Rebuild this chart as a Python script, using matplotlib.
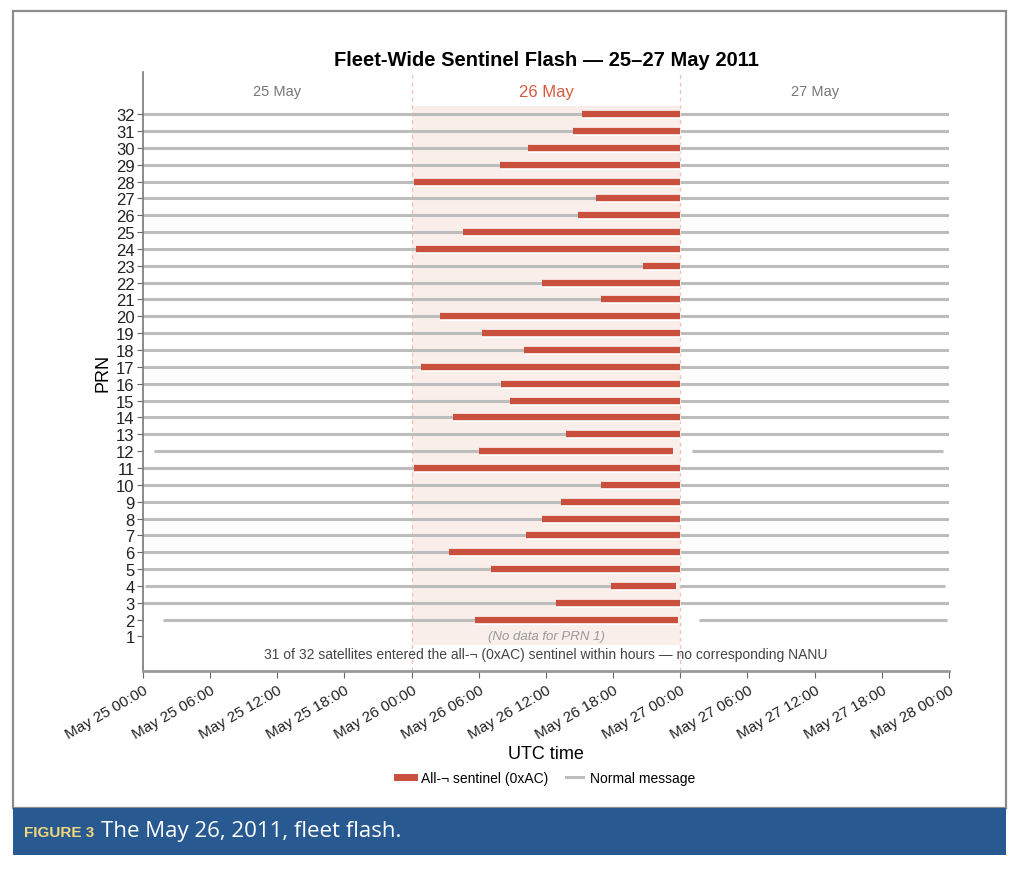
import numpy as np
import pandas as pd
import matplotlib
matplotlib.use("Agg")
import matplotlib.pyplot as plt
import matplotlib.dates as mdates
import matplotlib.patheffects as pe
from matplotlib.patches import Rectangle
from matplotlib.lines import Line2D

plt.rcParams['font.family'] = ['Liberation Sans', 'DejaVu Sans']

# data
prn = list(range(2, 33))
onset = ["05:38", "12:55", "17:47", "07:05", "03:20", "10:14", "11:40", "13:22", "16:55",
         "00:11", "06:01", "13:45", "03:43", "08:45", "07:57", "00:48", "10:00", "06:15",
         "02:30", "16:53", "11:40", "20:41", "00:25", "04:35", "14:50", "16:30", "00:11",
         "07:55", "10:25", "14:25", "15:13"]
# exceptions: PRN -> (normal start, sentinel end, normal resume, normal end)
special = {
    2: ("2011-05-25 01:48", "2011-05-26 23:48", "2011-05-27 01:40", "2011-05-27 23:51"),
    4: ("2011-05-25 00:11", "2011-05-26 23:37", "2011-05-27 00:00", "2011-05-27 23:39"),
    12: ("2011-05-25 01:00", "2011-05-26 23:23", "2011-05-27 01:04", "2011-05-27 23:26"),
}
default_span = ("2011-05-25 00:00", "2011-05-27 00:00", "2011-05-27 00:00", "2011-05-28 00:00")

days = ["25 May", "26 May", "27 May"]
ticks = pd.date_range("2011-05-25 00:00", "2011-05-28 00:00", freq="6h")

RED = "#c9503c"
GRAY = "#bdbdbd"

fig = plt.figure(figsize=(10.24, 8.7), dpi=100)

# outer frame + caption band
fig.patches.append(Rectangle((13/1024, 1-809/870), (1006-13)/1024, (809-12)/870,
                             transform=fig.transFigure, facecolor="white",
                             edgecolor="#8c8c8c", linewidth=1.6, zorder=-10))
fig.patches.append(Rectangle((13/1024, 1-856/870), (1006-13)/1024, (856-809)/870,
                             transform=fig.transFigure, facecolor="#285a91",
                             edgecolor="none", zorder=-9))
fig.text(24/1024, 1-833/870, "FIGURE 3", color="#f3d77c", fontsize=11,
         fontweight="bold", family=["Liberation Sans Narrow", "Liberation Sans"],
         va="center", ha="left")
fig.text(101/1024, 1-832/870, "The May 26, 2011, fleet flash.", color="white",
         fontsize=16, family=["Open Sans", "DejaVu Sans"], va="center", ha="left")

ax = fig.add_axes([143/1024, 1-672/870, (949-143)/1024, (672-73)/870])

d26 = pd.Timestamp("2011-05-26")
d27 = pd.Timestamp("2011-05-27")

ax.fill_between([d26, d27], 0.5, 32.5, color="#f9eee9", zorder=0, linewidth=0)
for d in [d26, d27]:
    ax.axvline(d, color="#f2bfae", linestyle=(0, (3, 3)), linewidth=0.9, zorder=1)

stroke = [pe.Stroke(linewidth=6.6, foreground="white"), pe.Normal()]
for p, t in zip(prn, onset):
    s0, s1, r0, r1 = special.get(p, default_span)
    on = pd.Timestamp("2011-05-26 " + t)
    ax.plot([pd.Timestamp(s0), on], [p, p], color=GRAY, linewidth=2.2,
            solid_capstyle="butt", zorder=2)
    ax.plot([pd.Timestamp(r0), pd.Timestamp(r1)], [p, p], color=GRAY, linewidth=2.2,
            solid_capstyle="butt", zorder=2)
    ax.plot([on, pd.Timestamp(s1)], [p, p], color=RED, linewidth=4.6,
            solid_capstyle="butt", zorder=3, path_effects=stroke)

ax.set_xlim(ticks[0], ticks[-1])
ax.set_ylim(-1.05, 34.5)
ax.set_yticks(range(1, 33))
ax.set_xticks(ticks)
ax.xaxis.set_major_formatter(mdates.DateFormatter("%b %d %H:%M"))
ax.tick_params(axis="y", labelsize=12, length=4, color="#666", labelcolor="#222", pad=2)
ax.tick_params(axis="x", labelsize=11, length=5, color="#666", labelcolor="#222")
for lab in ax.get_xticklabels():
    lab.set_rotation(30)
    lab.set_ha("right")
    lab.set_rotation_mode("anchor")

for s in ["top", "right"]:
    ax.spines[s].set_visible(False)
ax.spines["left"].set_color("#777")
ax.spines["left"].set_linewidth(1.2)
ax.spines["bottom"].set_color("#999")
ax.spines["bottom"].set_linewidth(2.0)
ax.patch.set_alpha(0)

day_cols = ["#777777", "#d45a3e", "#777777"]
for i, (lab, c) in enumerate(zip(days, day_cols)):
    ax.text(pd.Timestamp("2011-05-25 12:00") + pd.Timedelta(days=i), 33.35, lab,
            color=c, fontsize=12 if i == 1 else 10.5, ha="center", va="center")

mid = pd.Timestamp("2011-05-26 12:00")
ax.text(mid, 1.05, "(No data for PRN 1)", color="#9a9a9a", fontsize=9.5,
        style="italic", ha="center", va="center")
ax.text(mid, -0.05, "31 of 32 satellites entered the all-\u00ac (0xAC) sentinel within hours \u2014 no corresponding NANU",
        color="#444", fontsize=10, ha="center", va="center")

ax.set_title("Fleet-Wide Sentinel Flash \u2014 25\u201327 May 2011", fontsize=14.5,
             fontweight="bold", pad=5)
ax.set_ylabel("PRN", fontsize=13, labelpad=3)
ax.set_xlabel("UTC time", fontsize=13, labelpad=3)

handles = [Line2D([], [], color=RED, linewidth=5),
           Line2D([], [], color=GRAY, linewidth=2.2)]
fig.legend(handles, ["All-\u00ac sentinel (0xAC)", "Normal message"],
           loc="center", bbox_to_anchor=(546/1024, 1-779/870), ncol=2,
           frameon=False, fontsize=10, handlelength=1.2, handletextpad=0.5,
           columnspacing=1.3)

fig.savefig("out.png", dpi=100)
